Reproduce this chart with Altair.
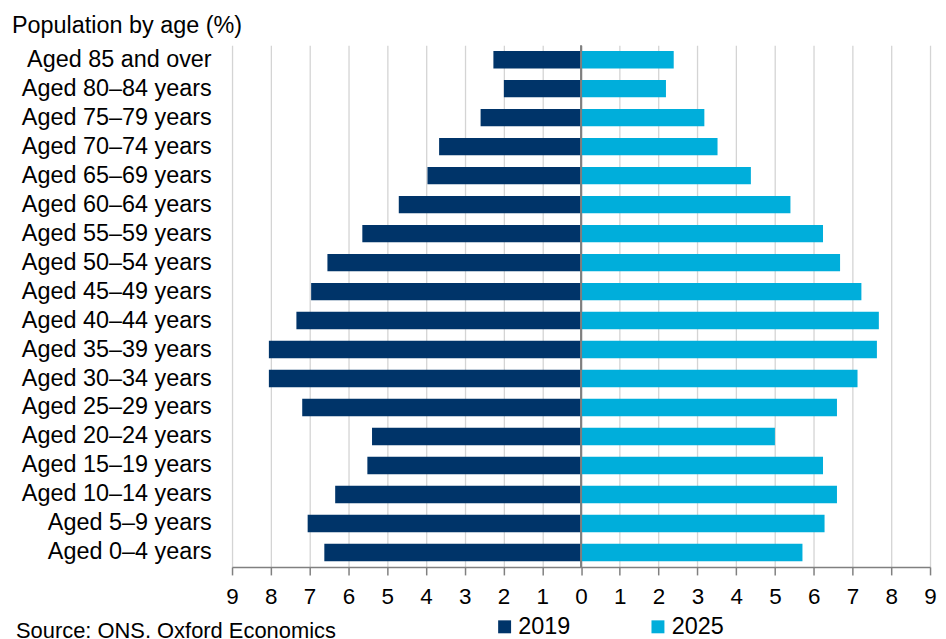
import altair as alt
import pandas as pd

ages = [
    "Aged 85 and over", "Aged 80–84 years", "Aged 75–79 years", "Aged 70–74 years",
    "Aged 65–69 years", "Aged 60–64 years", "Aged 55–59 years", "Aged 50–54 years",
    "Aged 45–49 years", "Aged 40–44 years", "Aged 35–39 years", "Aged 30–34 years",
    "Aged 25–29 years", "Aged 20–24 years", "Aged 15–19 years", "Aged 10–14 years",
    "Aged 5–9 years", "Aged 0–4 years",
]
v2019 = [2.26, 1.99, 2.59, 3.66, 3.96, 4.70, 5.64, 6.54, 6.96, 7.34,
         8.05, 8.05, 7.19, 5.39, 5.51, 6.34, 7.05, 6.62]
v2025 = [2.39, 2.19, 3.18, 3.52, 4.38, 5.40, 6.24, 6.68, 7.23, 7.68,
         7.63, 7.13, 6.60, 5.00, 6.24, 6.60, 6.28, 5.71]
years = ["2019", "2025"]
colors = ["#003469", "#00AEDB"]
x_ticks = [-9, -8, -7, -6, -5, -4, -3, -2, -1, 0, 1, 2, 3, 4, 5, 6, 7, 8, 9]

rows = []
for a, v in zip(ages, v2019):
    rows.append({"age": a, "year": "2019", "value": v, "signed": -v})
for a, v in zip(ages, v2025):
    rows.append({"age": a, "year": "2025", "value": v, "signed": v})
df = pd.DataFrame(rows)

FONT = "Liberation Sans, Arial, sans-serif"

x_scale = alt.Scale(domain=[-9, 9], nice=False, zero=True)
x_axis = alt.Axis(values=x_ticks, labelExpr="'' + abs(datum.value)",
                  labelOverlap=False, labelFlush=False, labelBound=False,
                  grid=True, gridColor="#d4d4d4", gridWidth=1.3,
                  domainColor="#808080", domainWidth=1.5,
                  tickColor="#808080", tickWidth=1.5, tickSize=8,
                  labelPadding=11, labelFontSize=22.5,
                  labelFont=FONT, labelColor="#000000")

bars = alt.Chart(df).mark_bar().encode(
    y=alt.Y("age:N", sort=ages, title=None,
            scale=alt.Scale(paddingInner=0.4, paddingOuter=0.2),
            axis=alt.Axis(ticks=False, domain=False, labelPadding=21, labelLimit=400,
                          labelFontSize=23.5, labelFont=FONT, labelColor="#000000",
                          grid=False)),
    x=alt.X("signed:Q", stack=None, title=None, scale=x_scale, axis=x_axis),
    color=alt.Color("year:N", scale=alt.Scale(domain=years, range=colors),
                    legend=alt.Legend(title=None, orient="none", direction="horizontal",
                                      legendX=262, legendY=572,
                                      symbolType="square", symbolSize=169,
                                      symbolStrokeWidth=0, labelFontSize=23.5,
                                      labelFont=FONT, labelColor="#000000",
                                      labelOffset=2, columnPadding=76)),
)

zero_line = alt.Chart(pd.DataFrame({"x": [0]})).mark_rule(
    color="#7f7f7f", strokeWidth=2
).encode(x=alt.X("x:Q", title=None, scale=x_scale, axis=x_axis))

source = alt.Chart(pd.DataFrame({"t": ["Source: ONS, Oxford Economics"]})).mark_text(
    align="left", baseline="alphabetic", fontSize=22, font=FONT, color="#000000"
).encode(text="t:N", x=alt.value(-217), y=alt.value(595))

chart = alt.layer(bars, zero_line, source).properties(
    width=701,
    height=524,
    autosize=alt.AutoSizeParams(type="none"),
    padding={"left": 225, "top": 36, "right": 8, "bottom": 70},
    title=alt.TitleParams("Population by age (%)", anchor="start", frame="group",
                          dx=-221, offset=7, fontSize=23.5, font=FONT,
                          fontWeight="normal", color="#000000"),
).configure_view(stroke=None)

chart.save("out.html", embed_options={"renderer": "svg", "actions": False})
